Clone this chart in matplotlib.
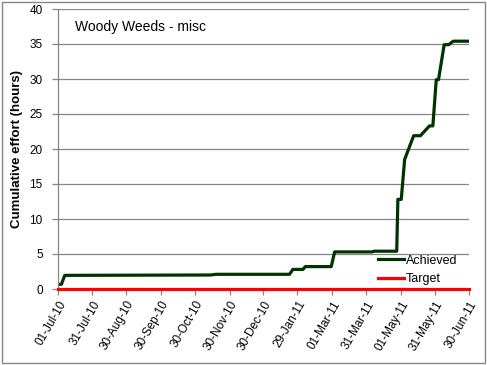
import numpy as np
import pandas as pd
import matplotlib
matplotlib.use('Agg')
import matplotlib.pyplot as plt
from matplotlib.patches import Rectangle

# cumulative effort
achieved_dates = ['2010-07-01', '2010-07-04', '2010-07-07', '2010-11-13', '2010-11-18',
                  '2011-01-22', '2011-01-25', '2011-02-03', '2011-02-05', '2011-02-28',
                  '2011-03-03', '2011-04-05', '2011-04-07', '2011-04-27', '2011-04-28',
                  '2011-05-01', '2011-05-04', '2011-05-12', '2011-05-18', '2011-05-26',
                  '2011-05-29', '2011-06-01', '2011-06-03', '2011-06-08', '2011-06-12',
                  '2011-06-16', '2011-06-30']
achieved_hours = [0.67, 0.67, 1.95, 2.0, 2.1,
                  2.1, 2.8, 2.8, 3.2, 3.2,
                  5.3, 5.3, 5.4, 5.4, 12.8,
                  12.8, 18.5, 21.9, 21.9, 23.3,
                  23.3, 29.9, 29.9, 34.9, 34.9,
                  35.4, 35.4]
target_dates = ['2010-07-01', '2011-06-30']
target_hours = [0, 0]
tick_labels = ['01-Jul-10', '31-Jul-10', '30-Aug-10', '30-Sep-10', '30-Oct-10', '30-Nov-10',
               '30-Dec-10', '29-Jan-11', '01-Mar-11', '31-Mar-11', '01-May-11', '31-May-11',
               '30-Jun-11']

plt.rcParams['font.family'] = ['Liberation Sans', 'DejaVu Sans']

fig = plt.figure(figsize=(4.87, 3.65), dpi=100)
ax = fig.add_axes([58/487, 76/365, 411/487, 280/365])

x_ach = pd.to_datetime(achieved_dates)
x_tgt = pd.to_datetime(target_dates)
ax.plot(x_ach, achieved_hours, color='#003300', lw=2.3, label='Achieved', solid_joinstyle='round')
ax.plot(x_tgt, target_hours, color='#ff0000', lw=2.3, label='Target', clip_on=False, zorder=5)

ax.set_xlim(pd.Timestamp('2010-07-01'), pd.Timestamp('2011-06-30'))
ax.set_ylim(0, 40)
ax.set_yticks(np.arange(0, 41, 5))
ax.set_xticks(pd.to_datetime(tick_labels, format='%d-%b-%y'))
ax.set_xticklabels(tick_labels, rotation=60, ha='right', rotation_mode='anchor')

ax.grid(True, axis='y', color='#868686', lw=0.9)
ax.set_axisbelow(True)
for s in ['top', 'right']:
    ax.spines[s].set_visible(False)
for s in ['left', 'bottom']:
    ax.spines[s].set_color('#868686')
    ax.spines[s].set_linewidth(0.9)
ax.tick_params(axis='both', colors='#868686', labelcolor='black', length=4, width=0.9, labelsize=8.5)
ax.tick_params(axis='y', pad=7)
ax.tick_params(axis='x', pad=3)

ax.set_ylabel('Cumulative effort (hours)', fontsize=9.5, fontweight='bold', labelpad=5)
ax.text(17/411, 1 - 18/280, 'Woody Weeds - misc', transform=ax.transAxes,
        fontsize=10, va='center', ha='left')

ax.legend(loc='center left', bbox_to_anchor=(0.778, 0.068), frameon=False,
          borderpad=0, borderaxespad=0, handlelength=2.1, handletextpad=0.15,
          labelspacing=0.55, fontsize=9)

fig.patches.append(Rectangle((2/487, 2/365), 483/487, 361/365, transform=fig.transFigure,
                             fill=False, edgecolor='#868686', lw=1))

fig.savefig('out.png', dpi=100)
